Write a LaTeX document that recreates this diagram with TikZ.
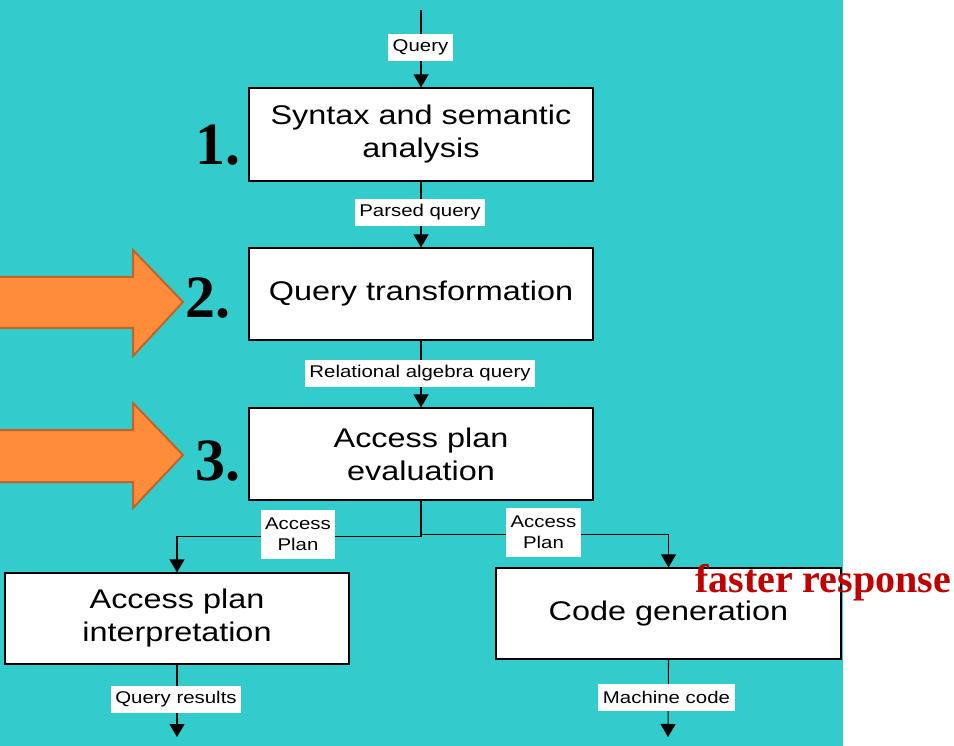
\documentclass[tikz,border=0pt]{standalone}
\usepackage{fontspec}
\setmainfont{Liberation Serif}
\newfontfamily\flowfont[FakeStretch=1.2]{Liberation Sans}
\usetikzlibrary{arrows.meta}
\definecolor{tealbg}{RGB}{51,204,204}
\definecolor{orangefill}{RGB}{255,140,58}
\definecolor{orangeline}{RGB}{196,98,40}
\definecolor{darkred}{RGB}{192,0,0}
\newcommand\bxfont{\flowfont\fontsize{27}{33}\selectfont}
\newcommand\lbfont{\flowfont\fontsize{17}{21}\selectfont}
\newcommand\nmfont{\bfseries\fontsize{60}{60}\selectfont}
\begin{document}
\begin{tikzpicture}[x=1pt,y=-1pt,
  stepbox/.style={draw=black, line width=1.2pt, fill=white, minimum width=344pt,
    minimum height=92pt, align=center, inner sep=0pt, font=\bxfont},
  lbl/.style={fill=white, inner xsep=4.5pt, inner ysep=0pt, minimum height=27pt,
    align=center, font=\lbfont},
  lbltwo/.style={lbl, minimum height=49pt},
  conn/.style={line width=1.1pt, -{Triangle[length=13pt,width=15pt]}},
  bigarrow/.style={fill=orangefill, draw=orangeline, line width=2pt, line join=miter},
  num/.style={anchor=base west, inner sep=0pt, font=\nmfont}]
\useasboundingbox (0,0) rectangle (954,746);
\clip (0,0) rectangle (954,746);
\fill[white] (0,0) rectangle (954,746);
\fill[tealbg] (0,0) rectangle (843,746);

% orange arrows
\draw[bigarrow] (-5,277) -- (133,277) -- (133,250) -- (183,302) -- (133,356) -- (133,328) -- (-5,328) -- cycle;
\draw[bigarrow] (-5,430) -- (133,430) -- (133,403) -- (183,455) -- (133,508) -- (133,482) -- (-5,482) -- cycle;

% boxes
\node[stepbox, minimum height=93pt] (b1) at (421,134.5) {Syntax and semantic\\analysis};
\node[stepbox] (b2) at (421,294) {Query transformation};
\node[stepbox] (b3) at (421,454) {Access plan\\evaluation};
\node[stepbox, minimum height=91pt] (b4) at (177,618.5) {Access plan\\interpretation};
\node[stepbox, minimum width=345pt, minimum height=91pt] (b5) at (668.5,613.5) {Code generation};

\coordinate (qin) at (421,10);
\coordinate (qout) at (177,737);
\coordinate (mout) at (668,737);

% connectors
\draw[conn] (qin) -- (b1.north);
\draw[conn] (b1.south) -- (b2.north);
\draw[conn] (b2.south) -- (b3.north);
\draw[conn] (b3.south) -- ++(0,36) -| (b4.north);
\draw[conn] (b3.south) -- ++(0,34) -| (b5.north);
\draw[conn] (b4.south) -- (qout);
\draw[conn] (b5.south) -- (mout);

% labels
\node[lbl] (l1) at (420.5,47.5) {Query};
\node[lbl] (l2) at (420,212.5) {Parsed query};
\node[lbl] (l3) at (420,373) {Relational algebra query};
\node[lbltwo] (l4) at (298,534.5) {Access\\Plan};
\node[lbltwo] (l5) at (543.5,532.5) {Access\\Plan};
\node[lbl] (l6) at (176,699.5) {Query results};
\node[lbl] (l7) at (666.5,697.5) {Machine code};

% numbers
\node[num] (n1) at (195,165) {1.};
\node[num] (n2) at (185,318) {2.};
\node[num] (n3) at (195,480) {3.};

\node[anchor=base west, inner sep=0pt, text=darkred, font=\bfseries\fontsize{40}{40}\selectfont] (fr) at (695,592) {faster response};
\end{tikzpicture}
\end{document}
